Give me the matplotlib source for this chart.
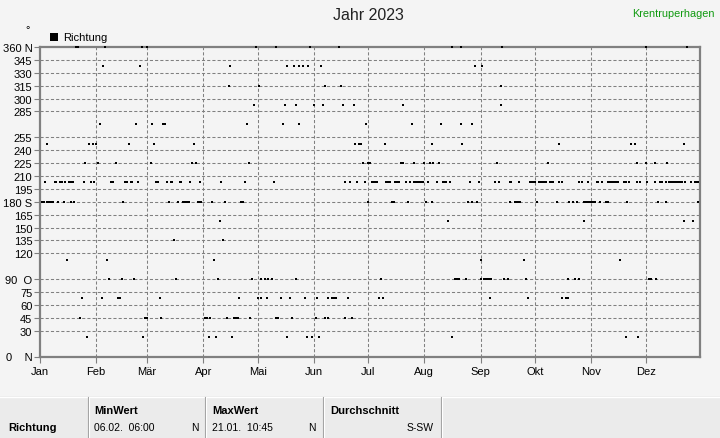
import matplotlib.pyplot as plt
from matplotlib.patches import Rectangle
from matplotlib.lines import Line2D

plt.rcParams['font.family'] = ['Liberation Sans', 'DejaVu Sans']

# Tag im Jahr (0 = 1. Januar) je Windrichtung
tage_n = [20, 21, 36, 56, 59, 119, 130, 149, 165, 227, 232, 255, 334, 357]
tage_nnw = [35, 55, 105, 136, 140, 143, 145, 148, 155, 240, 244]
tage_nw = [104, 121, 157, 166, 254]
tage_wnw = [118, 135, 141, 151, 156, 167, 173, 200, 254]
tage_w = [33, 53, 62, 68, 69, 114, 134, 143, 180, 205, 221, 232, 238]
tage_wsw = [4, 27, 29, 31, 49, 63, 85, 174, 176, 177, 190, 216, 233, 286,
            326, 328, 355]
tage_sw = [25, 32, 42, 61, 84, 86, 115, 178, 181, 182, 199, 200, 206, 212,
           215, 217, 220, 252, 280, 329, 334, 339, 346]
tage_ssw = [3, 8, 9, 11, 12, 14, 16, 17, 18, 24, 28, 30, 39, 40, 47, 48, 50,
            51, 54, 64, 65, 70, 72, 73, 77, 78, 83, 88, 100, 113, 129, 168,
            171, 175, 179, 183, 184, 185, 186, 191, 192, 193, 196, 197, 198,
            202, 204, 206, 207, 208, 209, 210, 211, 214, 219, 222, 223, 224,
            226, 237, 242, 251, 253, 259, 260, 264, 270, 271, 272, 273, 275,
            276, 277, 278, 279, 281, 282, 283, 286, 288, 297, 299, 302, 307,
            308, 310, 313, 314, 315, 316, 317, 318, 319, 322, 323, 325, 329,
            331, 335, 339, 342, 343, 345, 347, 348, 349, 350, 351, 352, 353,
            354, 356, 359, 361, 362, 363]
tage_s = [1, 2, 4, 5, 6, 7, 10, 13, 17, 19, 46, 71, 76, 79, 80, 81, 82, 87,
          88, 89, 95, 102, 111, 112, 181, 194, 195, 203, 213, 216, 236, 238,
          241, 259, 262, 263, 264, 265, 274, 285, 292, 294, 296, 300, 301,
          302, 303, 304, 305, 306, 309, 312, 313, 324, 341, 345, 363]
tage_sso = [99, 225, 300, 355, 360]
tage_so = [74, 101]
tage_oso = [15, 37, 96, 243, 267, 320]
tage_o = [38, 45, 52, 75, 98, 117, 122, 124, 126, 128, 141, 188, 229, 230,
          231, 235, 243, 245, 246, 247, 248, 249, 256, 258, 268, 291, 295,
          297, 336, 337, 340]
tage_ono = [23, 34, 43, 44, 66, 110, 120, 122, 125, 133, 138, 146, 153, 159,
            161, 162, 163, 170, 187, 189, 248, 269, 288, 290, 291]
tage_no = [22, 58, 59, 67, 91, 92, 94, 103, 107, 108, 109, 116, 130, 131,
           139, 152, 157, 159, 168, 172]
tage_nno = [26, 57, 93, 97, 106, 136, 147, 150, 154, 227, 323, 330]

richtungen = [360, 337.5, 315, 292.5, 270, 247.5, 225, 202.5, 180, 157.5,
              135, 112.5, 90, 67.5, 45, 22.5]
tage_je_richtung = [tage_n, tage_nnw, tage_nw, tage_wnw, tage_w, tage_wsw,
                    tage_sw, tage_ssw, tage_s, tage_sso, tage_so, tage_oso,
                    tage_o, tage_ono, tage_no, tage_nno]

monate = ['Jan', 'Feb', 'Mär', 'Apr', 'Mai', 'Jun', 'Jul', 'Aug', 'Sep',
          'Okt', 'Nov', 'Dez']
monat_start = [0, 31, 59, 90, 120, 151, 181, 212, 243, 273, 304, 334]

y_ticks = [0, 30, 45, 60, 75, 90, 120, 135, 150, 165, 180, 195, 210, 225,
           240, 255, 285, 300, 315, 330, 345, 360]
y_labels = ['0    N', '30', '45', '60', '75', '90  O', '120', '135', '150',
            '165', '180 S', '195', '210', '225', '240', '255', '285', '300',
            '315', '330', '345', '360 N']

W, H = 720, 439
bg = '#f4f4f4'
grau = '#808080'


def fx(x):
    return x / W


def fy(y):
    return 1 - y / H


fig = plt.figure(figsize=(W / 100, H / 100), dpi=100, facecolor=bg)
ax = fig.add_axes([fx(40), fy(357.5), 660 / W, 309.5 / H])
ax.set_facecolor(bg)

xs, ys = [], []
for r, tage in zip(richtungen, tage_je_richtung):
    for t in tage:
        xs.append(t)
        ys.append(r)
ax.plot(xs, ys, 's', ms=1.5, mew=0, color='black', clip_on=False, zorder=4)

ax.set_xlim(0, 364)
ax.set_ylim(0, 360)

ax.set_yticks(y_ticks)
ax.set_yticklabels(y_labels, fontsize=8)
ax.set_xticks(monat_start)
ax.set_xticklabels(monate, fontsize=8)
ax.tick_params(axis='both', direction='out', length=4, width=0.8,
               color=grau, pad=1.5)
ax.tick_params(axis='x', pad=3)

# gestrichelte Hilfslinien
for v in y_ticks[1:-1]:
    ax.axhline(v, color=grau, lw=0.75, ls=(0, (3, 2)), zorder=1)
for m in monat_start[1:]:
    ax.axvline(m, color=grau, lw=0.75, ls=(0, (3, 2)), zorder=1)

for s in ax.spines.values():
    s.set_color(grau)
    s.set_linewidth(1.6)

# Beschriftungen oben
fig.text(fx(368), fy(16), 'Jahr 2023', ha='center', va='center', fontsize=11.5,
         color='#222222')
fig.text(fx(715), fy(14), 'Krentruperhagen', ha='right', va='center',
         fontsize=7.8, color='#109a10')
fig.text(fx(28), fy(30), '°', ha='center', va='center', fontsize=8)
fig.patches.append(Rectangle((fx(50), fy(42)), 8 / W, 8 / H, transform=fig.transFigure,
                             facecolor='black', edgecolor='none'))
fig.text(fx(63), fy(38), 'Richtung', ha='left', va='center', fontsize=8)

# Tabelle unten
fig.patches.append(Rectangle((0, 0), 1, fy(397), transform=fig.transFigure,
                             facecolor='#ebebeb', edgecolor='none'))
fig.lines.append(Line2D([0, 1], [fy(397.5), fy(397.5)], transform=fig.transFigure,
                        color='white', lw=1))
for xs_ in [88, 205, 323, 441]:
    fig.lines.append(Line2D([fx(xs_), fx(xs_)], [0, fy(398)], transform=fig.transFigure,
                            color='#a0a0a0', lw=0.8))
    fig.lines.append(Line2D([fx(xs_ + 1), fx(xs_ + 1)], [0, fy(398)],
                            transform=fig.transFigure, color='white', lw=0.8))

fig.text(fx(8), fy(428), 'Richtung', ha='left', va='center', fontsize=8,
         fontweight='bold')
fig.text(fx(94), fy(411), 'MinWert', ha='left', va='center', fontsize=8,
         fontweight='bold')
fig.text(fx(94), fy(428), '06.02.  06:00', ha='left', va='center', fontsize=7.5)
fig.text(fx(199), fy(428), 'N', ha='right', va='center', fontsize=7.5)
fig.text(fx(212), fy(411), 'MaxWert', ha='left', va='center', fontsize=8,
         fontweight='bold')
fig.text(fx(212), fy(428), '21.01.  10:45', ha='left', va='center', fontsize=7.5)
fig.text(fx(316), fy(428), 'N', ha='right', va='center', fontsize=7.5)
fig.text(fx(330), fy(411), 'Durchschnitt', ha='left', va='center', fontsize=8,
         fontweight='bold')
fig.text(fx(434), fy(428), 'S-SW', ha='right', va='center', fontsize=7.5)

fig.savefig('out.png', dpi=100, facecolor=bg)
